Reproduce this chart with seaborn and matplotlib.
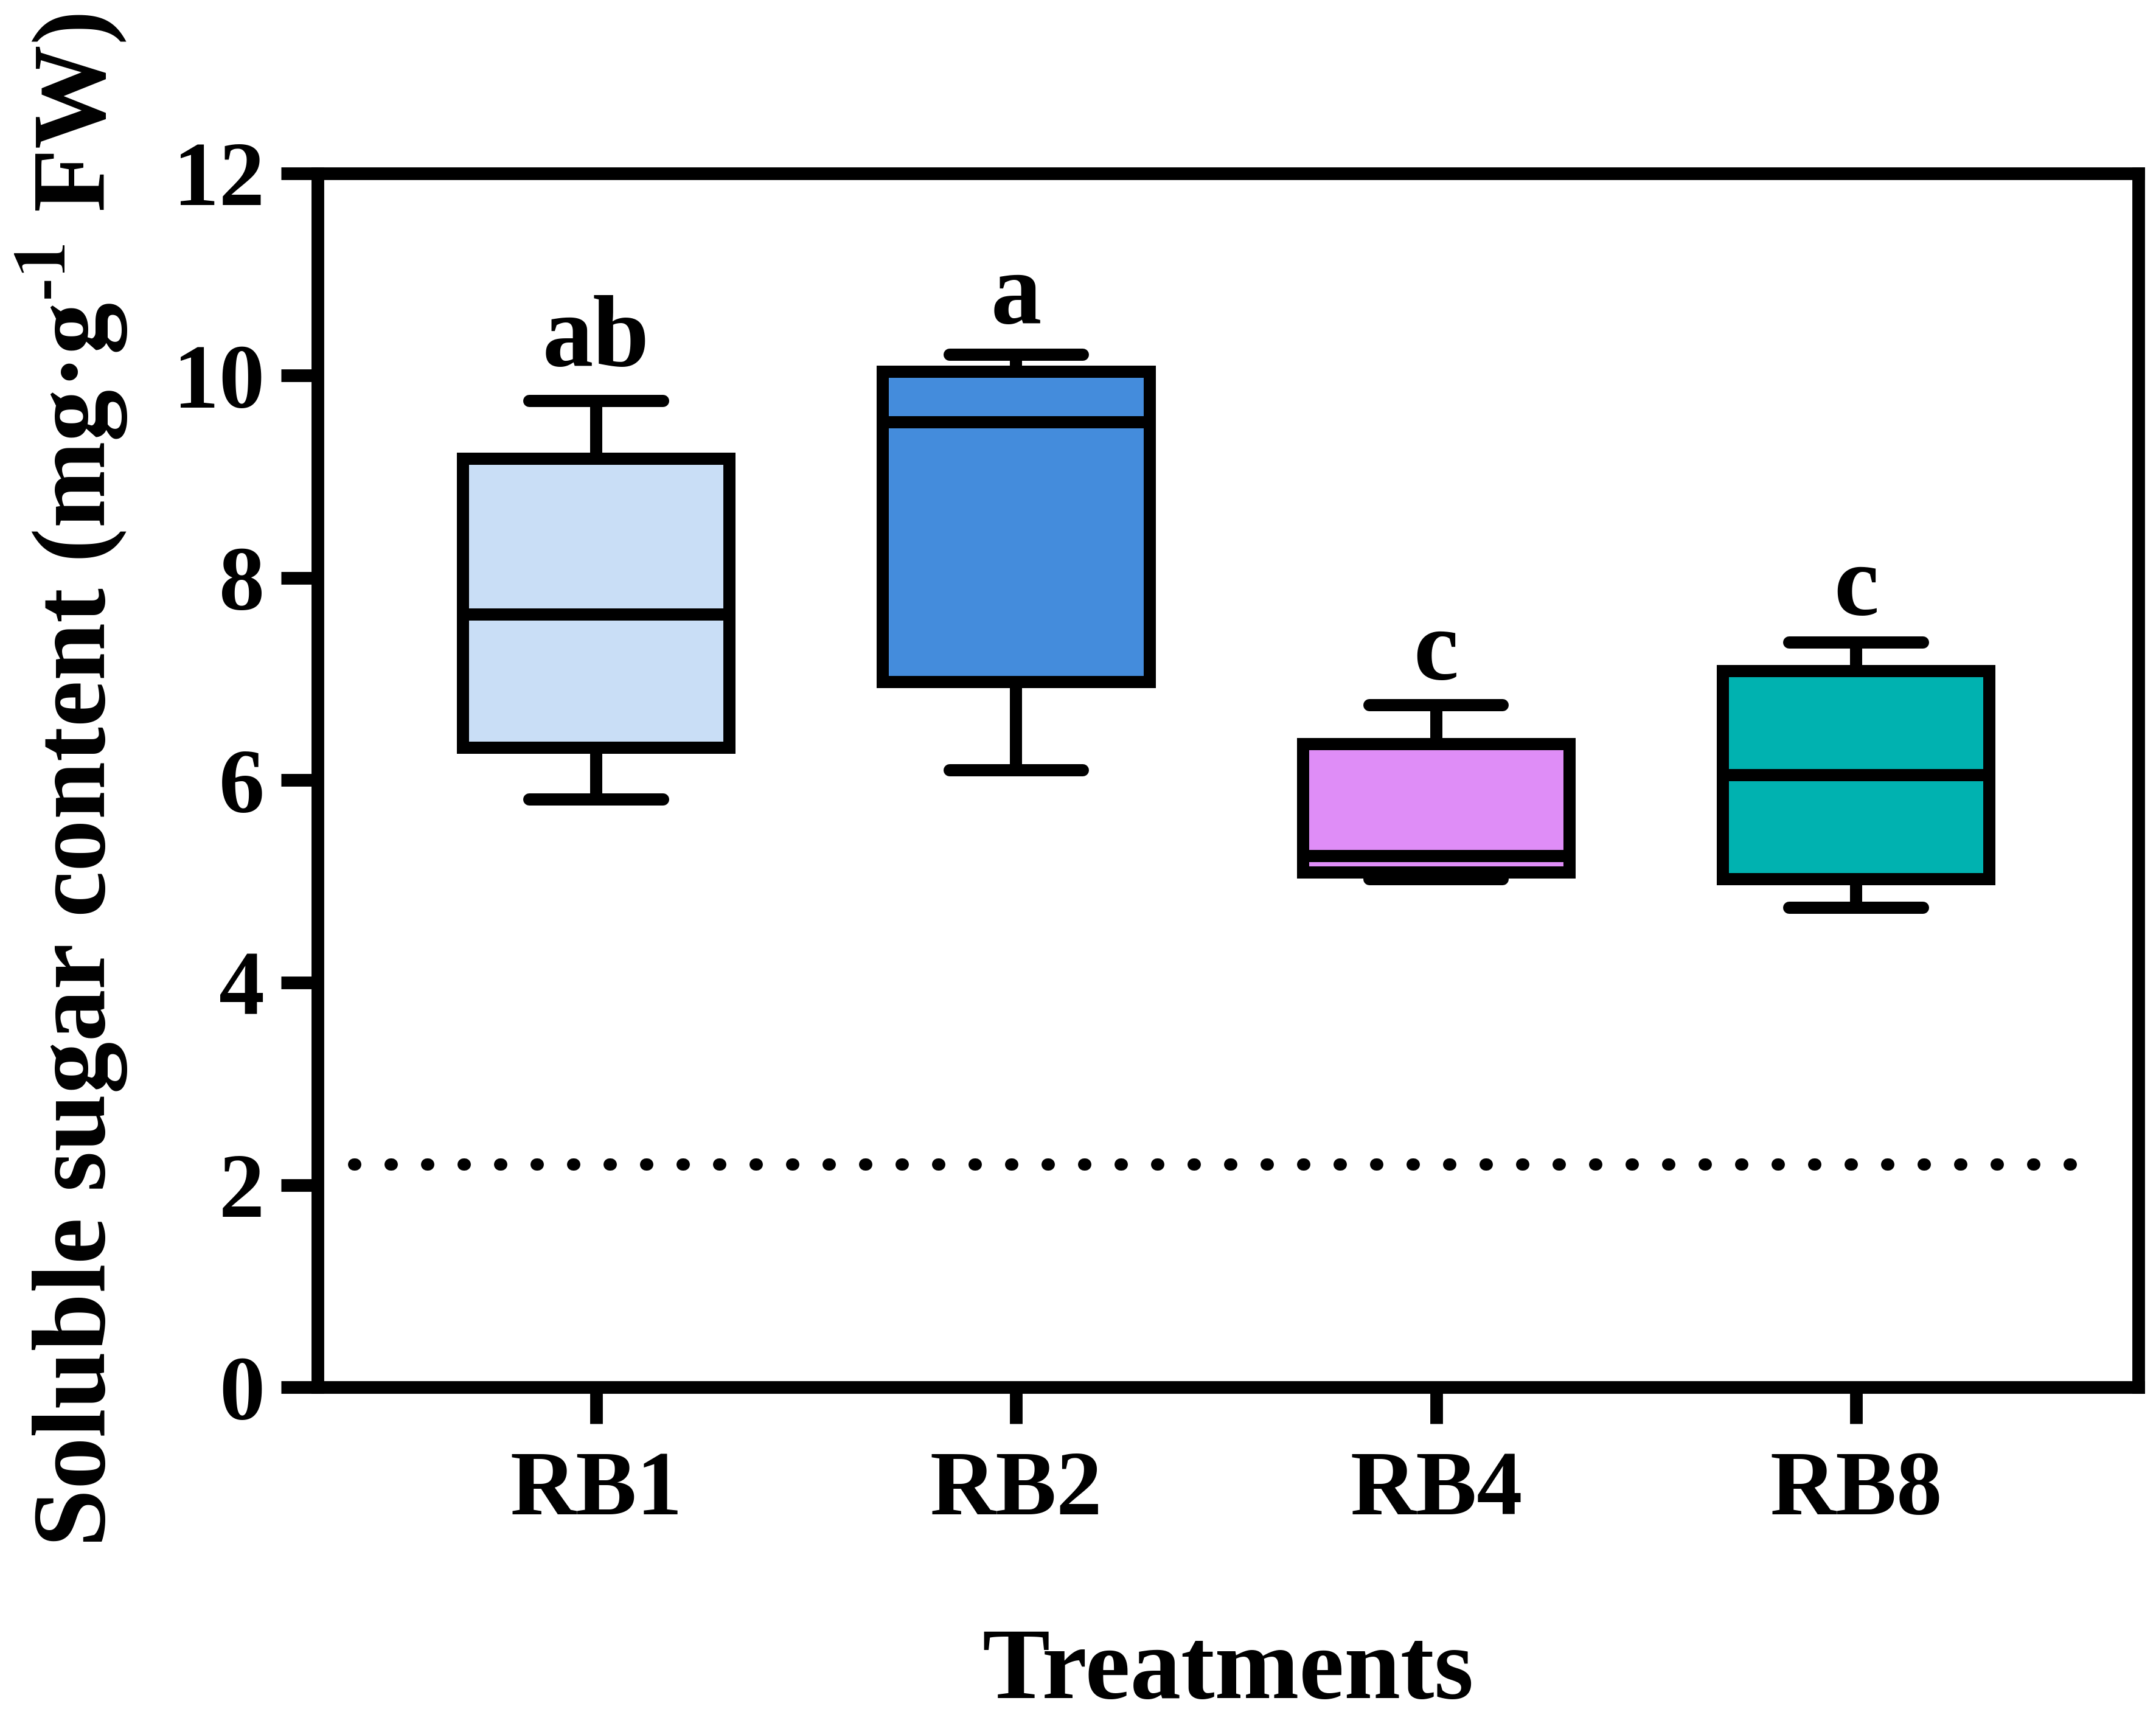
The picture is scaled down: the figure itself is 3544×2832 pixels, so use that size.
import seaborn as sns
import matplotlib.pyplot as plt
import pandas as pd

# values (min, q1, median, q3, max per treatment)
treatments = ['RB1', 'RB2', 'RB4', 'RB8']
rb1 = [5.81, 6.32, 7.64, 9.18, 9.75]
rb2 = [6.10, 6.97, 9.54, 10.04, 10.21]
rb4 = [5.02, 5.09, 5.25, 6.36, 6.74]
rb8 = [4.74, 5.02, 6.05, 7.08, 7.36]
letters = ['ab', 'a', 'c', 'c']
letter_y = [10.10, 10.52, 7.00, 7.64]
ref_line = 2.2
colors = ['#C9DEF6', '#448CDC', '#DF8DF7', '#00B2B0']

rows = []
for name, vals in zip(treatments, [rb1, rb2, rb4, rb8]):
    for v in vals:
        rows.append({'Treatments': name, 'value': v})
df = pd.DataFrame(rows)

sns.set_style("ticks")
# Times-like bold serif; Liberation may be missing, so list a few
plt.rcParams['font.family'] = ['Tinos', 'Liberation Serif', 'FreeSerif', 'DejaVu Serif']
plt.rcParams['font.weight'] = 'bold'
plt.rcParams['mathtext.fontset'] = 'custom'
plt.rcParams['mathtext.rm'] = 'FreeSerif:bold'
plt.rcParams['mathtext.bf'] = 'FreeSerif:bold'
for k in ['text.color', 'axes.labelcolor', 'xtick.color', 'ytick.color', 'axes.edgecolor']:
    plt.rcParams[k] = 'black'

fig = plt.figure(figsize=(3544 / 300, 2832 / 300), dpi=300)
ax = fig.add_axes([0.1473, 0.1949, 0.9918 - 0.1473, 0.8994 - 0.1949])

sns.boxplot(data=df, x='Treatments', y='value', hue='Treatments', palette=colors,
            order=treatments, hue_order=treatments, width=0.635, whis=(0, 100),
            linecolor='black', linewidth=4.8, saturation=1, legend=False, ax=ax)

# dotted reference line
ax.axhline(ref_line, xmin=0.02, xmax=0.982, color='black', linewidth=4.8,
           linestyle=(0, (0.1, 2.9)), dash_capstyle='round')

for i, (t, y) in enumerate(zip(letters, letter_y)):
    ax.text(i, y, t, ha='center', va='baseline', fontsize=40, fontweight='bold')

ax.set_xlim(-0.6635, 3.672)
ax.set_ylim(0, 12)
ax.set_yticks(range(0, 13, 2))

for s in ax.spines.values():
    s.set_linewidth(5)
    s.set_color('black')
ax.tick_params(axis='both', direction='out', length=14.4, width=5, colors='black',
               labelsize=36)
ax.tick_params(axis='y', pad=6.5)
ax.tick_params(axis='x', pad=10.5)
for lab in ax.get_xticklabels() + ax.get_yticklabels():
    lab.set_fontweight('bold')

ax.set_xlabel('Treatments', fontsize=40, fontweight='bold', labelpad=37)
ax.set_ylabel('Soluble sugar content (mg·g$^{\u2010 1}$ FW)', fontsize=41,
              fontweight='bold', labelpad=17)

fig.savefig('out.png', dpi=300)
